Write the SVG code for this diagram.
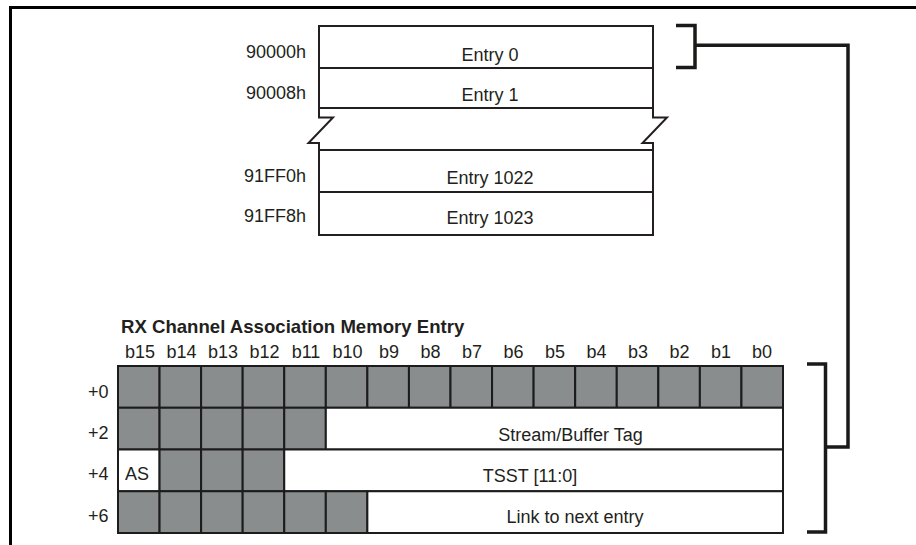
<svg xmlns="http://www.w3.org/2000/svg" width="916" height="545" viewBox="0 0 916 545">
<style>
text{font-family:"Liberation Sans",Arial,sans-serif;font-size:18px;fill:#231f20}
.b{font-weight:bold;font-size:18.6px}
.m{text-anchor:middle}
.e{text-anchor:end}
.ln{fill:none;stroke:#231f20;stroke-width:2}
.g{fill:#898d8e;stroke:#1c1c1c;stroke-width:2}
.w{fill:#fff;stroke:#1c1c1c;stroke-width:2}
.br{fill:none;stroke:#1c1a19;stroke-width:3.5}
</style>
<rect width="916" height="545" fill="#fff"/>
<path d="M10.5,545 V7.5 H916" fill="none" stroke="#000" stroke-width="3"/>

<g id="memory">
  <path class="ln" d="M319,26 H653 V117.5 H667 L642.5,143 H653 V235 H319 V150 V143 H308.5 L333,117.5 H319 Z"/>
  <path class="ln" d="M319,68 H653 M319,108 H653 M319,150 H653 M319,192 H653"/>
  <text class="e" x="306" y="58">90000h</text>
  <text class="e" x="306" y="99">90008h</text>
  <text class="e" x="306" y="182">91FF0h</text>
  <text class="e" x="306" y="222">91FF8h</text>
  <text class="m" x="490" y="61">Entry 0</text>
  <text class="m" x="490" y="100.5">Entry 1</text>
  <text class="m" x="490" y="184">Entry 1022</text>
  <text class="m" x="490" y="224">Entry 1023</text>
</g>

<g id="entry">
  <text class="b" x="121" y="333">RX Channel Association Memory Entry</text>
  <g class="m">
    <text class="m" x="140" y="358">b15</text>
    <text class="m" x="181.5" y="358">b14</text>
    <text class="m" x="223" y="358">b13</text>
    <text class="m" x="264.5" y="358">b12</text>
    <text class="m" x="306" y="358">b11</text>
    <text class="m" x="347.5" y="358">b10</text>
    <text class="m" x="389" y="358">b9</text>
    <text class="m" x="430.5" y="358">b8</text>
    <text class="m" x="472" y="358">b7</text>
    <text class="m" x="513.5" y="358">b6</text>
    <text class="m" x="555" y="358">b5</text>
    <text class="m" x="596.5" y="358">b4</text>
    <text class="m" x="638" y="358">b3</text>
    <text class="m" x="679.5" y="358">b2</text>
    <text class="m" x="721" y="358">b1</text>
    <text class="m" x="762" y="358">b0</text>
  </g>
  <text x="88" y="398">+0</text>
  <text x="88" y="439">+2</text>
  <text x="88" y="480">+4</text>
  <text x="88" y="522">+6</text>

  <!-- row +0 -->
  <rect class="g" x="118" y="366" width="41.56" height="41.75"/>
  <rect class="g" x="159.56" y="366" width="41.56" height="41.75"/>
  <rect class="g" x="201.12" y="366" width="41.56" height="41.75"/>
  <rect class="g" x="242.69" y="366" width="41.56" height="41.75"/>
  <rect class="g" x="284.25" y="366" width="41.56" height="41.75"/>
  <rect class="g" x="325.81" y="366" width="41.56" height="41.75"/>
  <rect class="g" x="367.37" y="366" width="41.56" height="41.75"/>
  <rect class="g" x="408.94" y="366" width="41.56" height="41.75"/>
  <rect class="g" x="450.5" y="366" width="41.56" height="41.75"/>
  <rect class="g" x="492.06" y="366" width="41.56" height="41.75"/>
  <rect class="g" x="533.62" y="366" width="41.56" height="41.75"/>
  <rect class="g" x="575.19" y="366" width="41.56" height="41.75"/>
  <rect class="g" x="616.75" y="366" width="41.56" height="41.75"/>
  <rect class="g" x="658.31" y="366" width="41.56" height="41.75"/>
  <rect class="g" x="699.87" y="366" width="41.56" height="41.75"/>
  <rect class="g" x="741.44" y="366" width="41.56" height="41.75"/>

  <!-- row +2 -->
  <rect class="g" x="118" y="407.75" width="41.56" height="41.75"/>
  <rect class="g" x="159.56" y="407.75" width="41.56" height="41.75"/>
  <rect class="g" x="201.12" y="407.75" width="41.56" height="41.75"/>
  <rect class="g" x="242.69" y="407.75" width="41.56" height="41.75"/>
  <rect class="g" x="284.25" y="407.75" width="41.56" height="41.75"/>
  <rect class="w" x="325.81" y="407.75" width="457.19" height="41.75"/>
  <text class="m" x="570.5" y="441">Stream/Buffer Tag</text>

  <!-- row +4 -->
  <rect class="w" x="118" y="449.5" width="41.56" height="41.75"/>
  <text x="125" y="480">AS</text>
  <rect class="g" x="159.56" y="449.5" width="41.56" height="41.75"/>
  <rect class="g" x="201.12" y="449.5" width="41.56" height="41.75"/>
  <rect class="g" x="242.69" y="449.5" width="41.56" height="41.75"/>
  <rect class="w" x="284.25" y="449.5" width="498.75" height="41.75"/>
  <text class="m" x="530" y="482">TSST [11:0]</text>

  <!-- row +6 -->
  <rect class="g" x="118" y="491.25" width="41.56" height="41.75"/>
  <rect class="g" x="159.56" y="491.25" width="41.56" height="41.75"/>
  <rect class="g" x="201.12" y="491.25" width="41.56" height="41.75"/>
  <rect class="g" x="242.69" y="491.25" width="41.56" height="41.75"/>
  <rect class="g" x="284.25" y="491.25" width="41.56" height="41.75"/>
  <rect class="g" x="325.81" y="491.25" width="41.56" height="41.75"/>
  <rect class="w" x="367.37" y="491.25" width="415.63" height="41.75"/>
  <text class="m" x="575" y="523">Link to next entry</text>
</g>

<g id="connectors">
  <path class="br" d="M676,25.5 H695 V67.5 H676"/>
  <path class="br" d="M807,364 H825.5 V532 H807"/>
  <path class="br" d="M695,45.3 H848 V447 H825.5"/>
</g>
</svg>
